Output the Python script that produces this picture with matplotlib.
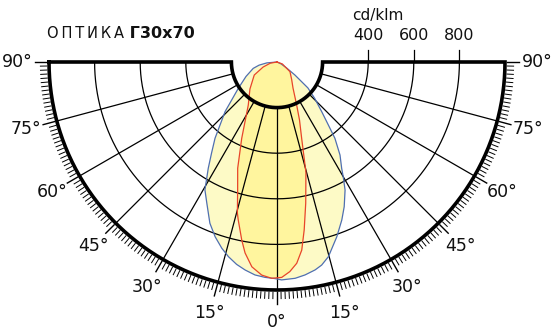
import numpy as np
import matplotlib.pyplot as plt

# polar intensity data, cd/klm (angle 0 = nadir, negative = left side)
blue_angles = [-90, -85, -80, -75, -65, -55.8, -46.3, -39.1, -35.7, -32.9, -29.4, -26.4,
               -22.6, -19.5, -16.5, -14, -11.3, -8.7, -5.9, -3.2, -0.5, 1.2, 4.8, 7.5,
               10.4, 12.4, 14.8, 18.9, 22.3, 24.9, 28, 30, 31.3, 34.1, 37.2, 39.2, 42,
               46, 50, 54, 58, 65, 90]
blue_cd = [0, 45, 80, 108, 150, 205, 315, 431, 492, 555, 644, 692,
           766, 813, 852, 880, 905, 923, 939, 946, 950, 956, 952, 942,
           927, 912, 883, 810, 749, 700, 636, 581, 546, 493, 420, 356, 293,
           230, 177, 97, 50, 20, 0]

red_angles = [-90, -80, -70, -60.2, -45, -33.7, -24.8, -20.3, -17.1, -14.7, -13.8, -11.2,
              -9.5, -7, -4.1, -1.4, 1.25, 3.5, 5.6, 7.5, 9.2, 11.5, 14.7, 17.9, 21.2,
              24.6, 31.6, 40, 53.3, 70, 90]
red_cd = [0, 30, 65, 115, 168, 227, 369, 497, 587, 685, 713, 796,
          849, 905, 937, 949, 945, 921, 887, 832, 746, 632, 500, 352, 273,
          207, 134, 100, 71, 25, 0]

ring_values = [400, 600, 800]
ring_labels = ['400', '600', '800']
angle_ticks = [-90, -75, -60, -45, -30, -15, 0, 15, 30, 45, 60, 75, 90]

W, H = 556, 336
scale = 0.228          # px per cd
cx, cy = 277, 62       # centre in pixels

fig = plt.figure(figsize=(W / 100, H / 100), dpi=100)
ax = fig.add_axes([0, 0, 1, 1])
ax.set_xlim(-cx / scale, (W - cx) / scale)
ax.set_ylim(-(H - cy) / scale, cy / scale)
ax.set_aspect('equal')
ax.axis('off')


def to_xy(ang, r):
    t = np.radians(np.asarray(ang, dtype=float))
    r = np.asarray(r, dtype=float)
    return r * np.sin(t), -r * np.cos(t)


# fills
bx, by = to_xy(blue_angles, blue_cd)
rx, ry = to_xy(red_angles, red_cd)
ax.fill(bx, by, color='#fdfac6', lw=0, zorder=1)
ax.fill(rx, ry, color='#fff59e', lw=0, zorder=2)

# grid
arc = np.linspace(-90, 90, 361)
for r in ring_values:
    x, y = to_xy(arc, np.full_like(arc, r))
    ax.plot(x, y, color='black', lw=0.9, zorder=3)
    ax.plot([r, r], [0, 53], color='black', lw=0.9, zorder=3)
for a in range(-75, 76, 15):
    x, y = to_xy([a, a], [200, 1000])
    ax.plot(x, y, color='black', lw=0.9, zorder=3)

# curves
ax.plot(bx, by, color='#4f6fb0', lw=0.9, zorder=4, solid_joinstyle='round')
ax.plot(rx, ry, color='#e8452a', lw=0.9, zorder=4, solid_joinstyle='round')

# frame
ox, oy = to_xy(arc[::-1] * -1, np.full_like(arc, 1000))
ix, iy = to_xy(arc[::-1], np.full_like(arc, 200))
fx = np.concatenate([ox, ix, [ox[0]]])
fy = np.concatenate([oy, iy, [oy[0]]])
ax.plot(fx, fy, color='black', lw=2.6, solid_joinstyle='miter', zorder=5)

# tick marks outside the frame
for a in range(-90, 91):
    major = a % 15 == 0
    x, y = to_xy([a, a], [1010, 1062 if major else 1038])
    ax.plot(x, y, color='black', lw=1.0 if major else 0.7, zorder=5)

for a in angle_ticks:
    x, y = to_xy(a, 1140)
    ax.text(x, y, f'{abs(a)}°', ha='center', va='center', fontsize=12.5, color='#111111')

# scale labels
for r, lab in zip(ring_values, ring_labels):
    ax.text(r, 85, lab, ha='center', va='bottom', fontsize=11.5, color='#111111')
ax.text(440, 202, 'cd/klm', ha='center', va='center', fontsize=11, color='#111111')

t1 = ax.text(-1009, 127, 'О\u2009П\u2009Т\u2009И\u2009К\u2009А', ha='left', va='center',
             fontsize=10.5, color='#111111')
ax.annotate(' Г30x70', xy=(1, 0), xycoords=t1, ha='left', va='bottom',
            fontsize=11.5, fontweight='bold', color='#111111')

fig.savefig('out.png', dpi=100)
